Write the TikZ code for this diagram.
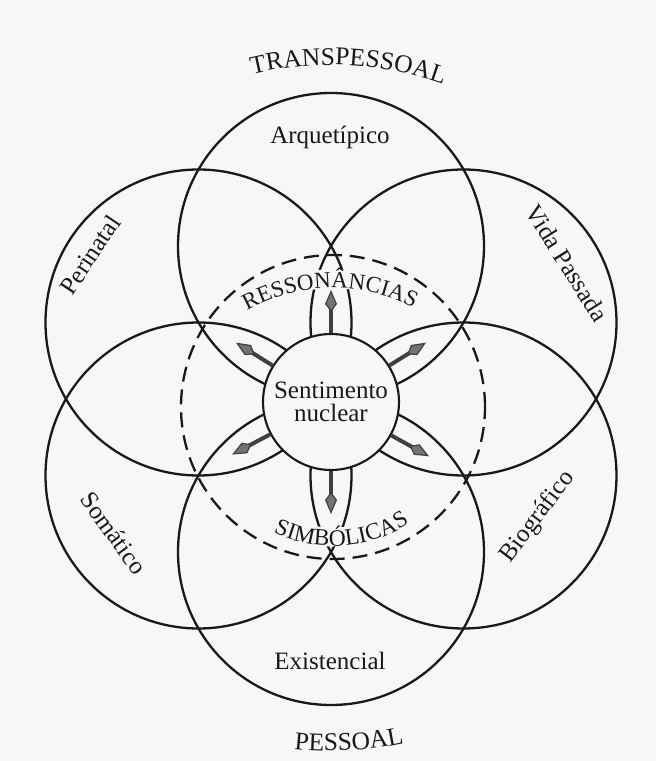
\documentclass[tikz,border=0pt]{standalone}
\usepackage{fontspec}
\setmainfont{Liberation Serif}
\usetikzlibrary{arrows.meta,decorations.text}
\definecolor{bg}{RGB}{247,247,247}
\definecolor{ink}{RGB}{25,25,25}
\newcommand\lblfont{\fontsize{25}{23}\selectfont}
\newcommand\capfontA{\fontsize{25.5}{25.5}\selectfont}
\newcommand\capfontB{\fontsize{23}{23}\selectfont}
\newcommand\capfontC{\fontsize{23.5}{23.5}\selectfont}
\begin{document}
\begin{tikzpicture}[x=1pt,y=1pt,
  ring/.style={draw=ink, line width=2.3pt},
  dashring/.style={draw=ink, line width=2.3pt, dash pattern=on 15pt off 8pt},
  petalarrow/.style={draw=black!75, line width=4pt,
    -{Kite[length=22pt,width=12pt,inset=8pt,line width=1.2pt,fill=black!55]}},
  lbl/.style={font=\lblfont, text=ink, inner sep=0pt},
  blank/.style={draw=bg, line width=19pt},
]
\useasboundingbox[fill=bg] (0,0) rectangle (656,761);
\coordinate (C) at (331,362);
\coordinate (N) at (331,359);
\coordinate (D) at (333,354);
\coordinate (R0) at (333,297);
% six large circles
\foreach \a/\n in {90/arq,30/vid,-30/bio,-90/exi,-150/som,150/per} {
  \path (C) ++(\a:153) coordinate (c\n);
  \draw[ring] (c\n) circle[radius=153];
}
% blank bands behind the curved inner texts
\draw[blank] ([shift={(R0)}]121:185) arc[start angle=121, end angle=61, radius=185];
\draw[blank] ([shift={(D)}]240:130) arc[start angle=240, end angle=307, radius=130];
% dashed circle
\draw[dashring] (D) circle[radius=152];
% curved texts
\path[decorate, decoration={text along path, text align=center, text color=ink,
  text={|\capfontB|RESSONÂNCIAS}}]
  ([shift={(R0)}]125:176) arc[start angle=125, end angle=57, radius=176];
\path[decorate, decoration={text along path, text align=center, text color=ink,
  text={|\capfontC|SIMBÓLICAS}}]
  ([shift={(D)}]235:139) arc[start angle=235, end angle=313, radius=139];
\path[decorate, decoration={text along path, text align=center, text color=ink,
  text={|\capfontA|TRANSPESSOAL}}]
  ([shift={(C)}]110:334) arc[start angle=110, end angle=64, radius=334];
\path[decorate, decoration={text along path, text align=center, text color=ink,
  text={|\capfontA|PESSOAL}}]
  ([shift={(C)}]258:352) arc[start angle=258, end angle=288, radius=352];
% circle labels
\node[lbl, anchor=base] (arq) at (330,617) {Arquetípico};
\node[lbl, anchor=base] (exi) at (330,91) {Existencial};
\node[lbl, rotate=56] (per) at (90,506) {Perinatal};
\node[lbl, rotate=-58] (vid) at (567,498) {Vida Passada};
\node[lbl, rotate=-54] (som) at (114,228) {Somático};
\node[lbl, rotate=53] (bio) at (538,244) {Biográfico};
% central circle
\node[circle, draw=ink, line width=2.1pt, fill=bg, minimum size=136pt, inner sep=0pt,
  align=center, font=\lblfont, text=ink] (nuc) at (N) {Sentimento\\nuclear};
% arrows
\foreach \a in {90,32,-29,-90,-152,148} {
  \path (N) ++(\a:112) coordinate (t\a);
  \draw[petalarrow] (nuc.\a) -- (t\a);
}
\end{tikzpicture}
\end{document}
